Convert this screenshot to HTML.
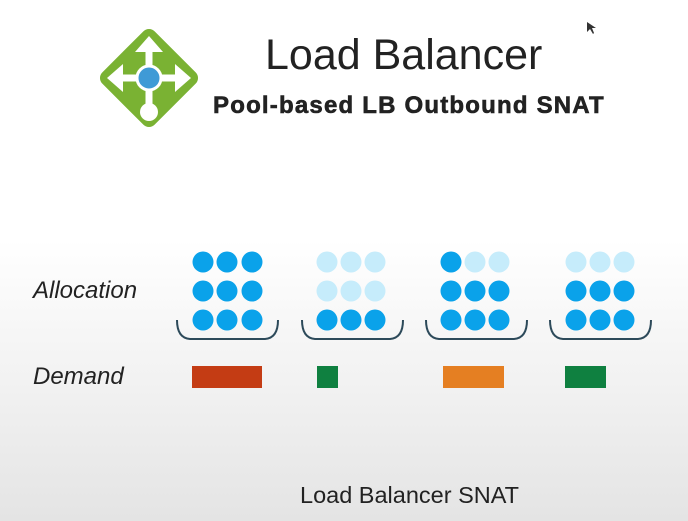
<!DOCTYPE html>
<html><head><style>
body{margin:0;width:688px;height:521px;overflow:hidden;background:linear-gradient(#fff 0,#fff 240px,#f0f0f0 400px,#e4e4e4 521px);font-family:"Liberation Sans",sans-serif;position:relative}
.t{position:absolute;white-space:nowrap}
</style></head><body>
<svg width="688" height="521" style="position:absolute;left:0;top:0">
<g transform="translate(149,78)">
<rect x="-37" y="-37" width="74" height="74" rx="8" transform="rotate(45)" fill="#7ab233"/>
<g stroke="#fff" stroke-width="7" fill="none">
<line x1="-30" y1="0" x2="30" y2="0"/><line x1="0" y1="-30" x2="0" y2="30"/>
</g>
<g fill="#fff">
<polygon points="-42,0 -26,-14 -26,14"/><polygon points="42,0 26,-14 26,14"/><polygon points="0,-42 -14,-26 14,-26"/>
<circle cx="0" cy="34" r="9"/>
</g>
<circle cx="0" cy="0" r="12" fill="#3f9ad6" stroke="#fff" stroke-width="3"/>
</g>
<g id="dots"></g>
<g fill="none" stroke="#2d4a5a" stroke-width="2">
<path d="M177,320 Q177,338 190,339 L265,339 Q278,338 278,320"/>
<path d="M302,320 Q302,338 315,339 L390,339 Q403,338 403,320"/>
<path d="M426,320 Q426,338 439,339 L514,339 Q527,338 527,320"/>
<path d="M550,320 Q550,338 563,339 L638,339 Q651,338 651,320"/>
</g>
<rect x="192" y="366" width="70" height="22" fill="#c43c14"/>
<rect x="317" y="366" width="21" height="22" fill="#0f8040"/>
<rect x="443" y="366" width="61" height="22" fill="#e57f22"/>
<rect x="565" y="366" width="41" height="22" fill="#0f8040"/>
<polygon points="587,22 587,32 590,29 593,34 594,33 592,28 596,28" fill="#333"/>
</svg>
<div class="t" style="left:265px;top:31px;font-size:43px;color:#222;font-weight:300">Load Balancer</div>
<div class="t" style="left:213px;top:92px;font-size:24px;font-weight:bold;color:#222;letter-spacing:1.2px;-webkit-text-stroke:0.6px #222">Pool-based LB Outbound SNAT</div>
<div class="t" style="left:33px;top:277px;font-size:24px;font-style:italic;color:#222">Allocation</div>
<div class="t" style="left:33px;top:363px;font-size:24px;font-style:italic;color:#222">Demand</div>
<div class="t" style="left:300px;top:482px;font-size:23.5px;color:#222">Load Balancer SNAT</div>
<script>
var g=document.getElementById('dots'),xs=[[203,227,252],[327,351,375],[451,475,499],[576,600,624]],ys=[262,291,320];
var light=[[],[0,1,2,3,4,5],[1,2],[0,1,2]];
for(var k=0;k<4;k++)for(var r=0;r<3;r++)for(var c=0;c<3;c++){var i=r*3+c;var e=document.createElementNS('http://www.w3.org/2000/svg','circle');e.setAttribute('cx',xs[k][c]);e.setAttribute('cy',ys[r]);e.setAttribute('r',10.5);e.setAttribute('fill',light[k].indexOf(i)>=0?'#c6ecfb':'#0aa2ea');g.appendChild(e);}
</script>
</body></html>
